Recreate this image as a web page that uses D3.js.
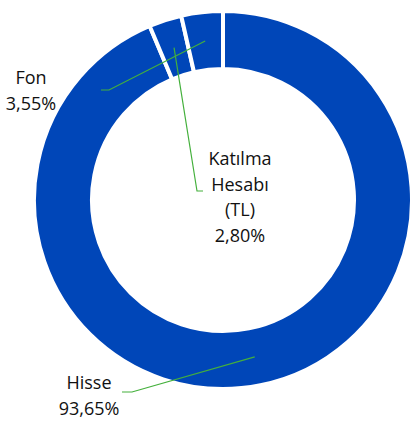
<!DOCTYPE html>
<html>
<head>
<meta charset="utf-8">
<script src="https://cdn.jsdelivr.net/npm/d3@7"></script>
<style>
  body { margin: 0; background: #fff; }
  text { font-family: "Open Sans", sans-serif; fill: #111; }
</style>
</head>
<body>
<div id="chart"></div>
<script>
// chart data
var categories = ["Hisse", "Katılma Hesabı (TL)", "Fon"];
var values = [93.65, 2.80, 3.55];
var valueLabels = ["93,65%", "2,80%", "3,55%"];

var svgWidth = 414;
var svgHeight = 421;
var cx = 223, cy = 200;
var outerR = 189, innerR = 131;

var svg = d3.select("#chart")
  .append("svg")
  .attr("width", svgWidth)
  .attr("height", svgHeight);

var g = svg.append("g")
  .attr("transform", `translate(${cx}, ${cy})`);

var pie = d3.pie().sort(null).value(d => d);
var arcs = pie(values);

var arc = d3.arc().innerRadius(innerR).outerRadius(outerR);

g.selectAll("path")
  .data(arcs)
  .enter()
  .append("path")
  .attr("d", arc)
  .attr("fill", "#0046b8")
  .attr("stroke", "#fff")
  .attr("stroke-width", 4);

// label layout (text lines, anchor, elbow point)
var labelLayout = [
  { lines: ["Hisse", valueLabels[0]], x: 89, y: 389, elbow: [[132, 392], [122, 392]] },
  { lines: ["Katılma", "Hesabı", "(TL)", valueLabels[1]], x: 240, y: 165, elbow: [[197, 191], [203, 191]] },
  { lines: ["Fon", valueLabels[2]], x: 31, y: 84, elbow: [[109, 90], [101, 90]] }
];

// leader lines from slice centroids
arcs.forEach(function(a, i) {
  var c = arc.centroid(a);
  var pts = [[cx + c[0], cy + c[1]]].concat(labelLayout[i].elbow);
  svg.append("path")
    .attr("d", d3.line()(pts))
    .attr("fill", "none")
    .attr("stroke", "#44b03c")
    .attr("stroke-width", 1.2);
});

// labels
labelLayout.forEach(function(l) {
  var t = svg.append("text")
    .attr("text-anchor", "middle")
    .attr("font-size", "18px");
  l.lines.forEach(function(line, j) {
    t.append("tspan")
      .attr("x", l.x)
      .attr("y", l.y + j * 25.5)
      .text(line);
  });
});
</script>
</body>
</html>
